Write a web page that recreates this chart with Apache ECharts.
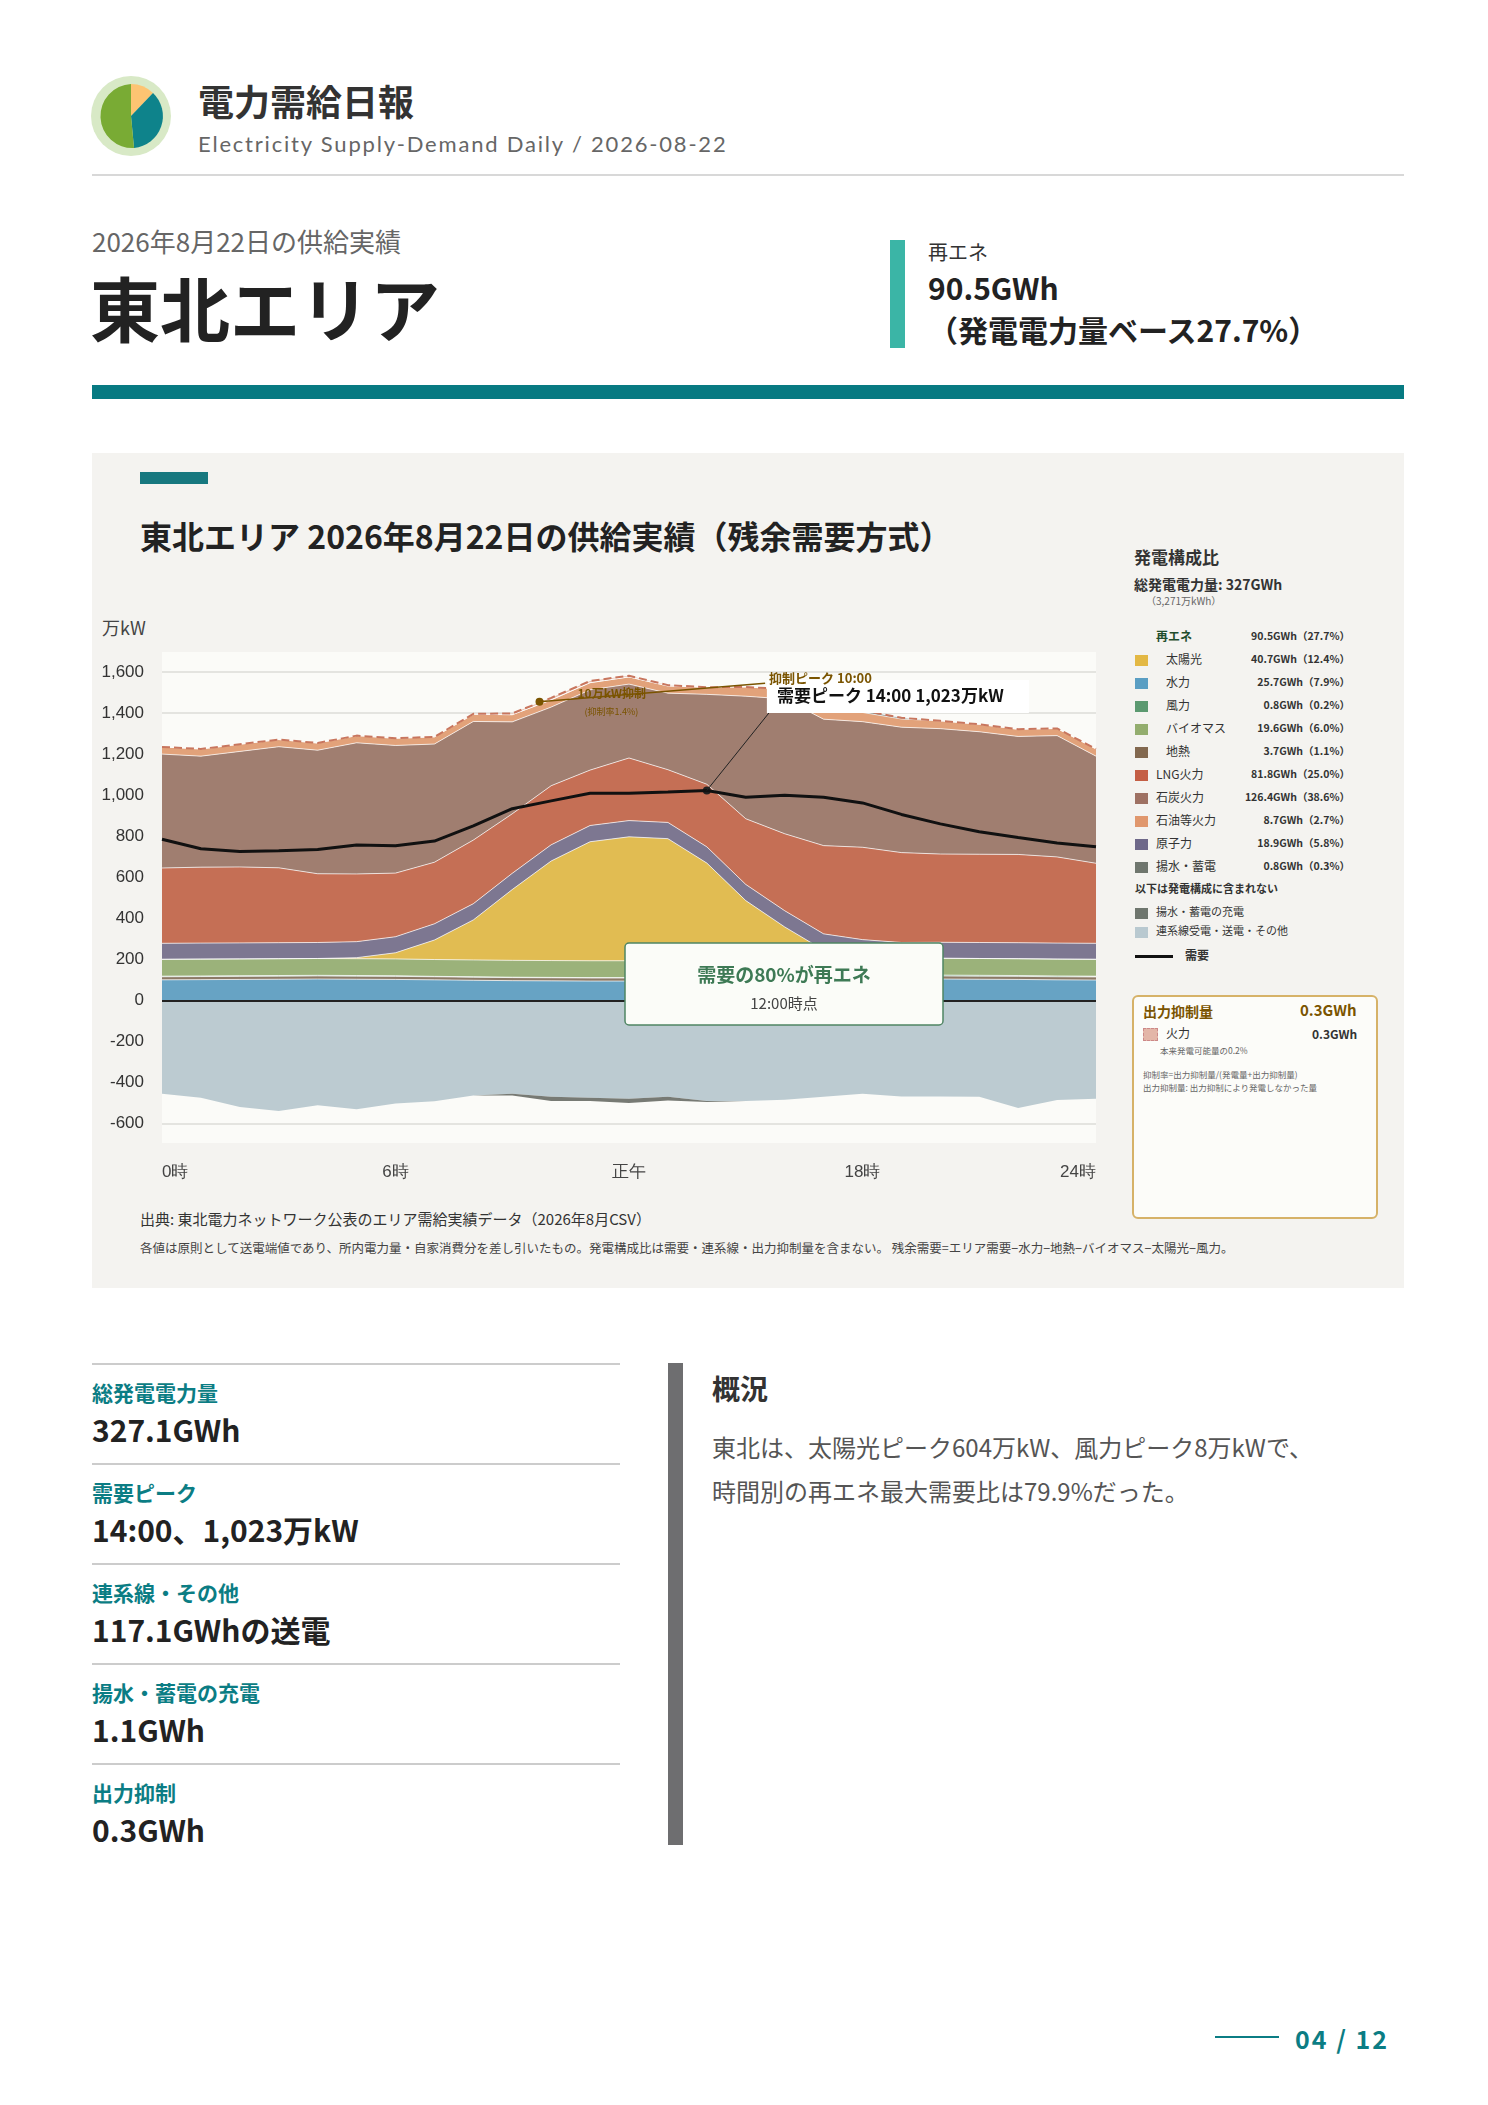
<!DOCTYPE html>
<html><head><meta charset="utf-8">
<script src="https://cdn.jsdelivr.net/npm/echarts@6/dist/echarts.min.js"></script>
<style>
body{margin:0;width:1488px;height:2105px;background:#fff;font-family:"Noto Sans CJK JP","Noto Sans",sans-serif;position:relative;color:#222}
.a{position:absolute;white-space:nowrap}
.lg{position:absolute;left:1135px;font-size:12px;color:#333}
.sw{display:inline-block;width:13px;height:11px;vertical-align:middle;margin-right:8px}
.kv .l{color:#0b7d84;font-weight:bold;font-size:21px}
.kv .v{font-weight:bold;font-size:30px;color:#222}
</style></head><body>
<svg class="a" style="left:90px;top:75px" width="82" height="82"><circle cx="41" cy="41" r="40" fill="#d8e9c6"/>
<path d="M41 41 L41 9 A32 32 0 0 1 63 18 Z" fill="#fdc472"/><path d="M41 41 L63 18 A32 32 0 0 1 44 73 Z" fill="#0e838b"/><path d="M41 41 L44 73 A32 32 0 1 1 41 9 Z" fill="#79ab34"/></svg>
<div class="a" style="left:198px;top:74px;font-size:36px;font-weight:bold;color:#333">電力需給日報</div>
<div class="a" style="left:198px;top:130px;font-size:22px;color:#666;letter-spacing:1.8px;font-family:'Lato'">Electricity Supply-Demand Daily / 2026-08-22</div>
<div class="a" style="left:92px;top:174px;width:1312px;height:2px;background:#d8d8d8"></div>
<div class="a" style="left:92px;top:222px;font-size:26px;color:#666">2026年8月22日の供給実績</div>
<div class="a" style="left:90px;top:262px;font-size:70px;font-weight:bold;color:#222;line-height:90px">東北エリア</div>
<div class="a" style="left:890px;top:240px;width:15px;height:108px;background:#3bb5a6"></div>
<div class="a" style="left:928px;top:240px;font-size:20px;color:#333;line-height:24px">再エネ</div>
<div class="a" style="left:928px;top:270px;font-size:30px;font-weight:bold;color:#222;line-height:34px">90.5GWh</div>
<div class="a" style="left:928px;top:312px;font-size:30px;font-weight:bold;color:#222;line-height:34px">（発電電力量ベース27.7%）</div>
<div class="a" style="left:92px;top:385px;width:1312px;height:14px;background:#077a82"></div>
<div class="a" style="left:92px;top:453px;width:1312px;height:835px;background:#f4f3f0"></div>
<div class="a" style="left:140px;top:472px;width:68px;height:12px;background:#17787f"></div>
<div class="a" style="left:140px;top:512px;font-size:32px;font-weight:bold;color:#222">東北エリア 2026年8月22日の供給実績（残余需要方式）</div>
<div class="a" style="left:102px;top:614px;font-size:18px;color:#444">万kW</div>
<div id="c" class="a" style="left:92px;top:600px;width:1040px;height:600px"></div>
<div class="a" style="left:140px;top:1208px;font-size:15px;color:#333">出典: 東北電力ネットワーク公表のエリア需給実績データ（2026年8月CSV）</div>
<div class="a" style="left:140px;top:1238px;font-size:12.5px;color:#444">各値は原則として送電端値であり、所内電力量・自家消費分を差し引いたもの。発電構成比は需要・連系線・出力抑制量を含まない。 残余需要=エリア需要−水力−地熱−バイオマス−太陽光−風力。</div>
<div id="lg"></div>
<div class="a" style="left:1132px;top:995px;width:242px;height:220px;border:2px solid #d6b268;border-radius:6px;background:#fcfcf9"></div>
<div class="a" style="left:1143px;top:1001px;font-size:14px;font-weight:bold;color:#7a5400">出力抑制量</div>
<div class="a" style="left:1300px;top:999px;font-size:15px;font-weight:bold;color:#7a5400">0.3GWh</div>
<div class="a" style="left:1143px;top:1024px;font-size:12px;color:#333"><span class="sw" style="background:#e3b6a8;border:1px dashed #c88"></span>火力</div>
<div class="a" style="left:1312px;top:1025px;font-size:12px;color:#333;font-weight:bold">0.3GWh</div>
<div class="a" style="left:1160px;top:1044px;font-size:8.5px;color:#666">本来発電可能量の0.2%</div>
<div class="a" style="left:1143px;top:1068px;font-size:8.5px;color:#666">抑制率=出力抑制量/(発電量+出力抑制量)</div>
<div class="a" style="left:1143px;top:1081px;font-size:8.5px;color:#666">出力抑制量: 出力抑制により発電しなかった量</div>
<div id="kv"></div>
<div class="a" style="left:668px;top:1363px;width:15px;height:482px;background:#6e6e70"></div>
<div class="a" style="left:712px;top:1368px;font-size:28px;font-weight:bold;color:#333">概況</div>
<div class="a" style="left:712px;top:1425px;font-size:24px;color:#555;line-height:44px">東北は、太陽光ピーク604万kW、風力ピーク8万kWで、<br>時間別の再エネ最大需要比は79.9%だった。</div>
<div class="a" style="left:1215px;top:2036px;width:64px;height:2px;background:#0b7d84"></div>
<div class="a" style="left:1295px;top:2020px;font-size:25px;font-weight:bold;color:#0b7d84;letter-spacing:2px">04 / 12</div>
<script>
const hours=['0','1','2','3','4','5','6','7','8','9','10','11','12','13','14','15','16','17','18','19','20','21','22','23','24'];
const hydro=[100,101,102,103,104,103,102,100,98,96,95,94,94,94,95,96,98,100,102,103,104,103,102,100,99];
const geo=[15,15,15,15,15,15,15,15,15,15,15,15,15,15,15,15,15,15,15,15,15,15,15,15,15];
const wind=[3,3,3,3,3,3,3,2,2,2,2,2,2,2,2,3,3,3,4,4,4,4,4,4,4];
const biomass=[82,82,82,82,82,82,82,82,82,82,82,82,82,82,82,82,82,82,82,82,82,82,82,82,82];
const solar=[0,0,0,0,0,5,30,95,195,345,485,580,604,595,475,290,160,45,15,0,0,0,0,0,0];
const nuclear=[78,78,78,78,78,78,78,79,79,79,79,79,79,79,79,79,79,79,78,78,78,78,78,78,78];
const lng=[367,370,370,365,335,330,310,300,310,290,288,270,305,257,305,320,375,430,450,438,430,430,430,420,390];
const coal=[555,541,563,590,602,639,622,576,578,448,383,391,360,373,438,597,657,616,612,611,611,597,575,591,522];
const oil=[35,35,35,35,35,35,35,35,35,35,35,35,35,35,35,45,48,50,45,40,38,36,35,35,35];
const pumpGen=[0,0,0,0,0,0,0,0,0,0,0,0,0,0,0,0,0,8,10,6,0,0,0,0,0];
const curtail=[0,0,0,0,0,0,0,0,2,6,10,8,6,4,0,0,0,0,0,0,0,0,0,0,0];
const tie=[-455,-474,-520,-539,-511,-530,-502,-492,-464,-455,-470,-475,-480,-470,-490,-490,-484,-470,-455,-468,-468,-470,-525,-485,-479];
const charge=[0,0,0,0,0,0,0,0,0,-8,-20,-15,-20,-18,-5,0,0,0,0,0,0,0,0,0,0];
const demand=[785,739,725,729,735,757,753,776,850,934,972,1009,1009,1015,1023,990,1000,990,962,906,860,822,794,767,748];
const xLabels={0:'0時',6:'6時',12:'正午',18:'18時',24:'24時'};
const legendRows=[['再エネ','','90.5GWh（27.7%）',1],['太陽光','#e3b844','40.7GWh（12.4%）',2],['水力','#5a9ec3','25.7GWh（7.9%）',2],['風力','#5b9970','0.8GWh（0.2%）',2],['バイオマス','#93ad6e','19.6GWh（6.0%）',2],['地熱','#82684f','3.7GWh（1.1%）',2],['LNG火力','#c45e45','81.8GWh（25.0%）',0],['石炭火力','#9e7163','126.4GWh（38.6%）',0],['石油等火力','#e0976d','8.7GWh（2.7%）',0],['原子力','#6e6889','18.9GWh（5.8%）',0],['揚水・蓄電','#6f766e','0.8GWh（0.3%）',0]];
const kvRows=[['総発電電力量','327.1GWh'],['需要ピーク','14:00、1,023万kW'],['連系線・その他','117.1GWhの送電'],['揚水・蓄電の充電','1.1GWh'],['出力抑制','0.3GWh']];
let h='<div class="a" style="left:1134px;top:544px;font-size:17px;font-weight:bold;color:#333">発電構成比</div><div class="a" style="left:1134px;top:574px;font-size:14px;font-weight:bold;color:#333">総発電電力量: 327GWh</div><div class="a" style="left:1146px;top:593px;font-size:10px;color:#666">（3,271万kWh）</div>';
legendRows.forEach((r,i)=>{const y=627+i*23;
 h+=`<div class="lg" style="top:${y}px;${r[3]==1?'left:1156px;font-weight:bold;color:#1f4d2c':''}">${r[1]?`<span class="sw" style="background:${r[1]}"></span>`:''}${r[3]==2?'<span style="margin-left:10px"></span>':''}${r[0]}</div><div class="lg" style="top:${y+1}px;left:1230px;width:120px;text-align:right;font-size:10.5px;font-weight:bold">${r[2]}</div>`;});
h+='<div class="lg" style="top:880px;font-weight:bold;font-size:11px">以下は発電構成に含まれない</div><div class="lg" style="top:903px;font-size:11px"><span class="sw" style="background:#6f766e"></span>揚水・蓄電の充電</div><div class="lg" style="top:922px;font-size:11px"><span class="sw" style="background:#b9c9d0"></span>連系線受電・送電・その他</div><div class="lg" style="top:946px;font-weight:bold"><span style="display:inline-block;width:38px;height:3px;background:#111;vertical-align:middle;margin-right:12px"></span>需要</div>';
document.getElementById('lg').innerHTML=h;
let k='';kvRows.forEach((r,i)=>{const y=1363+i*100;k+=`<div class="a" style="left:92px;top:${y}px;width:528px;height:2px;background:#ccc"></div><div class="a kv" style="left:92px;top:${y+14}px"><div class="l">${r[0]}</div><div class="v">${r[1]}</div></div>`;});
document.getElementById('kv').innerHTML=k;

const ch=echarts.init(document.getElementById('c'));
function ser(name,data,color,stack,extra){return Object.assign({name,type:'line',stack,data:data,symbol:'none',areaStyle:{color,opacity:1},lineStyle:{width:1,color:'rgba(255,255,255,0.7)'},z:2},extra||{});}
const bg={type:'rect',left:70,top:52,shape:{width:934,height:491},style:{fill:'#fbfbf8'},z:-10};
ch.setOption({animation:false,
grid:{left:70,right:36,top:72,height:451.5},
graphic:[bg],
xAxis:{type:'category',data:hours,boundaryGap:false,axisLine:{show:false},axisTick:{show:false},splitLine:{show:false},
 axisLabel:{margin:40,fontSize:17,color:'#444',interval:0,formatter:v=>xLabels[v]||'',alignMinLabel:'left',alignMaxLabel:'right'}},
yAxis:{type:'value',min:-600,max:1600,interval:200,axisLine:{show:false},axisTick:{show:false},
 splitLine:{lineStyle:{color:'#dcdcd8',width:1.5}},axisLabel:{fontSize:17,color:'#333',margin:18,formatter:v=>v.toLocaleString('en-US')}},
series:[
 ser('水力',hydro,'#67a3c4','p'),ser('地熱',geo,'#8c7a66','p'),ser('風力',wind,'#5b9970','p'),ser('バイオマス',biomass,'#9bb27a','p'),
 ser('太陽光',solar,'#e1bc52','p'),ser('原子力',nuclear,'#7d7791','p'),ser('LNG火力',lng,'#c56f55','p'),ser('石炭火力',coal,'#a07e70','p'),
 ser('石油等火力',oil,'#e2a27a','p'),ser('揚水・蓄電',pumpGen,'#8a908a','p'),
 ser('抑制',curtail,'#e8c0b0','p',{lineStyle:{width:2,type:'dashed',color:'#c8765e'}}),
 ser('連系線',tie,'#bccbd1','n',{lineStyle:{width:0}}),ser('充電',charge,'#777a74','n',{lineStyle:{width:0}}),
 {name:'需要',type:'line',data:demand,symbol:'none',lineStyle:{color:'#111',width:3},z:5,
  markLine:{silent:true,symbol:'none',data:[{yAxis:0,lineStyle:{color:'#222',width:2,type:'solid'},label:{show:false}}]},
  markPoint:{symbol:'circle',symbolSize:8,itemStyle:{color:'#222'},label:{show:false},data:[{coord:['14',1023]}]}}
]});
const p=(x,y)=>{const a=ch.convertToPixel({gridIndex:0},[0,y]),b=ch.convertToPixel({gridIndex:0},[1,y]);return [a[0]+(b[0]-a[0])*x,a[1]];};
const a=p(9.7,1455),b=p(14,1023),t=p(15.6,1565),t2=p(15.8,1478);
ch.setOption({graphic:[bg,
 {type:'circle',shape:{cx:a[0],cy:a[1],r:4},style:{fill:'#7a5400'},z:100},
 {type:'line',shape:{x1:a[0],y1:a[1],x2:t[0]-4,y2:t[1]+4},style:{stroke:'#7a5400',lineWidth:1.5},z:100},
 {type:'text',x:a[0]+38,y:a[1]-14,style:{text:'10万kW抑制',fill:'#7a5400',font:'bold 12px "Noto Sans CJK JP"'},z:100},
 {type:'text',x:a[0]+45,y:a[1]+5,style:{text:'(抑制率1.4%)',fill:'#7a5400',font:'9px "Noto Sans CJK JP"'},z:100},
 {type:'text',x:t[0],y:t[1]-8,style:{text:'抑制ピーク 10:00',fill:'#7a5400',font:'bold 13px "Noto Sans CJK JP"'},z:100},
 {type:'rect',shape:{x:t2[0]-10,y:t2[1]-17,width:262,height:33},style:{fill:'#fff'},z:99},
 {type:'text',x:t2[0],y:t2[1]-10,style:{text:'需要ピーク 14:00 1,023万kW',fill:'#111',font:'bold 17px "Noto Sans CJK JP"'},z:100},
 {type:'line',shape:{x1:b[0],y1:b[1],x2:t2[0]-8,y2:t2[1]+16},style:{stroke:'#222',lineWidth:1},z:100},
 {type:'rect',shape:{x:533,y:343,width:318,height:82,r:4},style:{fill:'#fbfcf8',stroke:'#4f8563',lineWidth:1.5},z:100},
 {type:'text',x:692,y:375,style:{text:'需要の80%が再エネ',fill:'#3e7a55',font:'bold 19px "Noto Sans CJK JP"',align:'center',verticalAlign:'middle'},z:101},
 {type:'text',x:692,y:403,style:{text:'12:00時点',fill:'#444',font:'15px "Noto Sans CJK JP"',align:'center',verticalAlign:'middle'},z:101}
]},{replaceMerge:['graphic']});
</script></body></html>
